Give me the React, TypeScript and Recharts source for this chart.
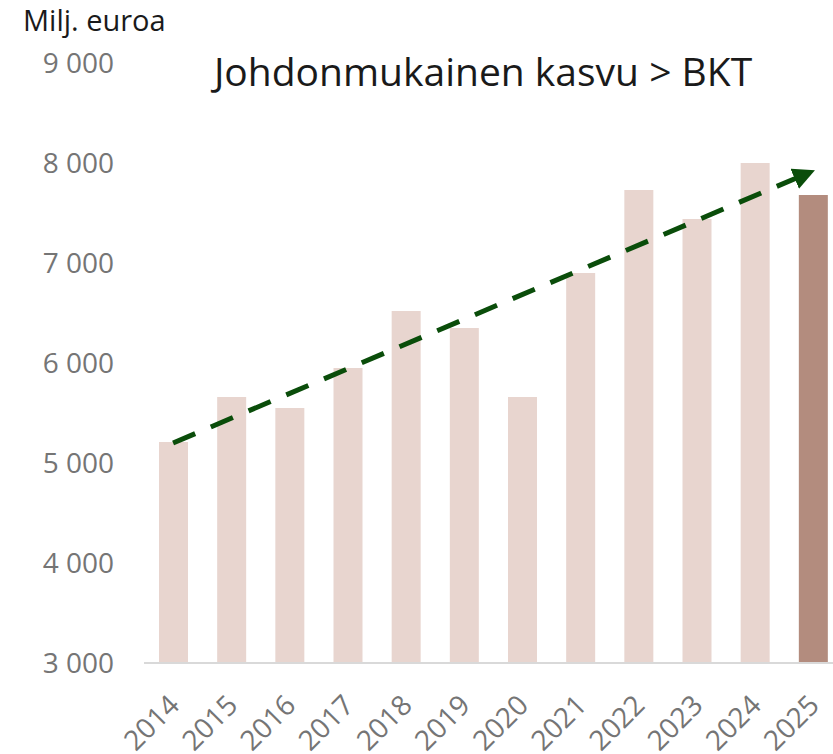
import React from "react";
import { BarChart, Bar, Line, XAxis, YAxis, Cell } from "recharts";

const years = ["2014", "2015", "2016", "2017", "2018", "2019", "2020", "2021", "2022", "2023", "2024", "2025"];
const values = [5210, 5660, 5550, 5950, 6520, 6350, 5660, 6900, 7730, 7440, 8000, 7680];
// trend arrow: only start and end points
const trend = [5200, null, null, null, null, null, null, null, null, null, null, 7920];
const yTicks = [3000, 4000, 5000, 6000, 7000, 8000, 9000];

const data = years.map((year, i) => ({ year, value: values[i], trend: trend[i] }));

const FONT = "'Open Sans', sans-serif";
const GREY = "#757575";

const formatThousands = (v: number) => {
  const s = String(v);
  return s.length > 3 ? s.slice(0, -3) + " " + s.slice(-3) : s;
};

function YearTick({ x, y, payload }: any) {
  return (
    <text
      x={x + 8}
      y={y + 36}
      transform={`rotate(-45 ${x + 8} ${y + 36})`}
      textAnchor="end"
      fill={GREY}
      fontSize={28}
      fontFamily={FONT}
    >
      {payload.value}
    </text>
  );
}

export default function App() {
  return (
    <div style={{ position: "absolute", left: 0, top: 0, width: 833, height: 754, overflow: "hidden", background: "#fff" }}>
      <BarChart
        width={842}
        height={754}
        data={data}
        margin={{ top: 63, right: 0, bottom: 0, left: 0 }}
      >
        <defs>
          <marker
            id="arrowHead"
            viewBox="0 0 20 20"
            refX="18"
            refY="10"
            markerWidth="22"
            markerHeight="22"
            markerUnits="userSpaceOnUse"
            orient="auto"
          >
            <path d="M0,0 L20,10 L0,20 z" fill="#0a4d0a" />
          </marker>
        </defs>
        <XAxis
          dataKey="year"
          height={91}
          axisLine={{ stroke: "#d9d9d9", strokeWidth: 2 }}
          tickLine={false}
          interval={0}
          tick={<YearTick />}
        />
        <YAxis
          width={144}
          domain={[3000, 9000]}
          ticks={yTicks}
          axisLine={false}
          tickLine={false}
          tickFormatter={formatThousands}
          tick={{ fill: GREY, fontSize: 28, fontFamily: FONT }}
          tickMargin={24}
        />
        <Bar dataKey="value" barSize={29} isAnimationActive={false}>
          {data.map((d, i) => (
            <Cell key={d.year} fill={i === data.length - 1 ? "#b38c7e" : "#e8d5cf"} />
          ))}
        </Bar>
        <Line
          dataKey="trend"
          type="linear"
          connectNulls
          stroke="#0a4d0a"
          strokeWidth={5}
          strokeDasharray="24 17"
          dot={false}
          activeDot={false}
          markerEnd="url(#arrowHead)"
          isAnimationActive={false}
        />
      </BarChart>
      <svg width={833} height={754} style={{ position: "absolute", left: 0, top: 0, pointerEvents: "none" }}>
        <text x={23} y={31} fontSize={29} fontFamily={FONT} fill="#1a1a1a">
          Milj. euroa
        </text>
        <text x={483} y={86} textAnchor="middle" fontSize={39} fontFamily={FONT} fill="#1a1a1a">
          Johdonmukainen kasvu &gt; BKT
        </text>
      </svg>
    </div>
  );
}
